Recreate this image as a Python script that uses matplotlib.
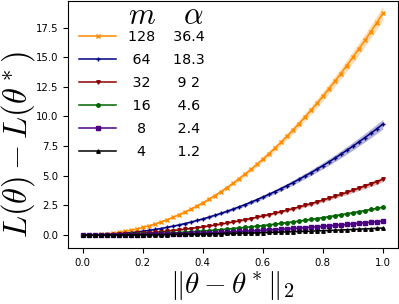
import numpy as np
import matplotlib
matplotlib.use("Agg")
import matplotlib.pyplot as plt

plt.rcParams['mathtext.fontset'] = 'cm'

# distance to optimum, 51 evenly spaced points
dist = np.linspace(0.0, 1.0, 51)

m_vals = ["128", "64", "32", "16", "8", "4"]
alpha_vals = ["36.4", "18.3", "9 2", "4.6", "2.4", "1.2"]

loss_128 = [0.00, 0.01, 0.02, 0.05, 0.09, 0.15, 0.22, 0.30, 0.40, 0.51,
            0.64, 0.78, 0.93, 1.10, 1.29, 1.49, 1.71, 1.94, 2.19, 2.45,
            2.73, 3.02, 3.33, 3.66, 4.00, 4.36, 4.74, 5.13, 5.53, 5.96,
            6.40, 6.85, 7.33, 7.81, 8.32, 8.84, 9.38, 9.94, 10.51, 11.10,
            11.70, 12.33, 12.97, 13.62, 14.30, 14.99, 15.70, 16.42, 17.16, 17.92,
            18.70]
loss_64 = [0.00, 0.00, 0.01, 0.03, 0.05, 0.07, 0.11, 0.15, 0.20, 0.26,
           0.32, 0.39, 0.47, 0.55, 0.65, 0.75, 0.85, 0.97, 1.09, 1.23,
           1.36, 1.51, 1.67, 1.83, 2.00, 2.18, 2.37, 2.56, 2.77, 2.98,
           3.20, 3.43, 3.66, 3.91, 4.16, 4.42, 4.69, 4.97, 5.25, 5.55,
           5.85, 6.16, 6.48, 6.81, 7.15, 7.49, 7.85, 8.21, 8.58, 8.96,
           9.35]
loss_32 = [0.00, 0.00, 0.01, 0.01, 0.02, 0.04, 0.05, 0.08, 0.10, 0.13,
           0.16, 0.20, 0.23, 0.28, 0.32, 0.38, 0.43, 0.49, 0.55, 0.62,
           0.69, 0.76, 0.84, 0.92, 1.01, 1.10, 1.19, 1.29, 1.39, 1.50,
           1.61, 1.72, 1.84, 1.96, 2.09, 2.22, 2.36, 2.50, 2.64, 2.79,
           2.94, 3.10, 3.26, 3.42, 3.59, 3.77, 3.95, 4.13, 4.31, 4.50,
           4.70]
loss_16 = [0.00, 0.00, 0.00, 0.01, 0.01, 0.02, 0.03, 0.04, 0.05, 0.06,
           0.08, 0.10, 0.12, 0.14, 0.16, 0.19, 0.21, 0.24, 0.27, 0.31,
           0.34, 0.38, 0.42, 0.46, 0.50, 0.55, 0.60, 0.64, 0.70, 0.75,
           0.80, 0.86, 0.92, 0.98, 1.05, 1.11, 1.18, 1.25, 1.32, 1.39,
           1.47, 1.55, 1.63, 1.71, 1.80, 1.88, 1.97, 2.06, 2.16, 2.25,
           2.35]
loss_8 = [0.00, 0.00, 0.00, 0.00, 0.01, 0.01, 0.01, 0.02, 0.03, 0.03,
          0.04, 0.05, 0.06, 0.07, 0.08, 0.09, 0.11, 0.12, 0.14, 0.15,
          0.17, 0.19, 0.21, 0.23, 0.25, 0.28, 0.30, 0.32, 0.35, 0.38,
          0.40, 0.43, 0.46, 0.49, 0.52, 0.56, 0.59, 0.63, 0.66, 0.70,
          0.74, 0.78, 0.82, 0.86, 0.90, 0.95, 0.99, 1.04, 1.08, 1.13,
          1.18]
loss_4 = [0.00, 0.00, 0.00, 0.00, 0.00, 0.00, 0.01, 0.01, 0.01, 0.02,
          0.02, 0.02, 0.03, 0.03, 0.04, 0.05, 0.05, 0.06, 0.07, 0.08,
          0.09, 0.10, 0.11, 0.12, 0.13, 0.14, 0.15, 0.16, 0.17, 0.19,
          0.20, 0.22, 0.23, 0.25, 0.26, 0.28, 0.30, 0.31, 0.33, 0.35,
          0.37, 0.39, 0.41, 0.43, 0.45, 0.47, 0.50, 0.52, 0.54, 0.57,
          0.59]

# relative half-width of the shaded band
spread = [0.03, 0.04, 0.04, 0.04, 0.04, 0.04]

series = [loss_128, loss_64, loss_32, loss_16, loss_8, loss_4]
colors = ["darkorange", "navy", "darkred", "darkgreen", "indigo", "black"]
markers = ["x", "+", "v", "o", "s", "^"]

# pad labels so the two columns line up (digits are fixed width)
labels = ["128    36.4",
          " 64     18.3",
          " 32      9 2",
          " 16      4.6",
          "  8       2.4",
          "  4       1.2"]

fig, ax = plt.subplots(figsize=(3.99, 3.04), dpi=100)
fig.subplots_adjust(left=0.170, right=0.997, bottom=0.184, top=0.997)

for y, c, mk, lab, s in zip(series, colors, markers, labels, spread):
    y = np.array(y)
    ax.fill_between(dist, y * (1 - s) - 0.03, y * (1 + s) + 0.03,
                    color=c, alpha=0.3, lw=0)
    ax.plot(dist, y, color=c, marker=mk, markersize=2.5, lw=1.1, label=lab)

ax.set_xlim(-0.05, 1.05)
ax.set_ylim(-1.1, 19.75)
ax.set_xticks([0.0, 0.2, 0.4, 0.6, 0.8, 1.0])
ax.set_yticks([0.0, 2.5, 5.0, 7.5, 10.0, 12.5, 15.0, 17.5])
ax.tick_params(labelsize=7.3)

ax.set_xlabel(r"$\|\theta-\theta^*\|_2$", fontsize=21, labelpad=1)
ax.set_ylabel(r"$L(\theta)-L(\theta^*)$", fontsize=23.5)
ax.yaxis.set_label_coords(-0.094, 0.42)

leg = ax.legend(loc="upper left", bbox_to_anchor=(0.021, 1.015), frameon=False,
                fontsize=10.3, title=r"$m$   $\alpha$", title_fontsize=22,
                handlelength=2.6, handletextpad=0.8, labelspacing=0.62,
                borderaxespad=0, borderpad=0.3)
leg._legend_box.align = "right"
leg._legend_box.sep = 0

fig.savefig("out.png", dpi=100)
